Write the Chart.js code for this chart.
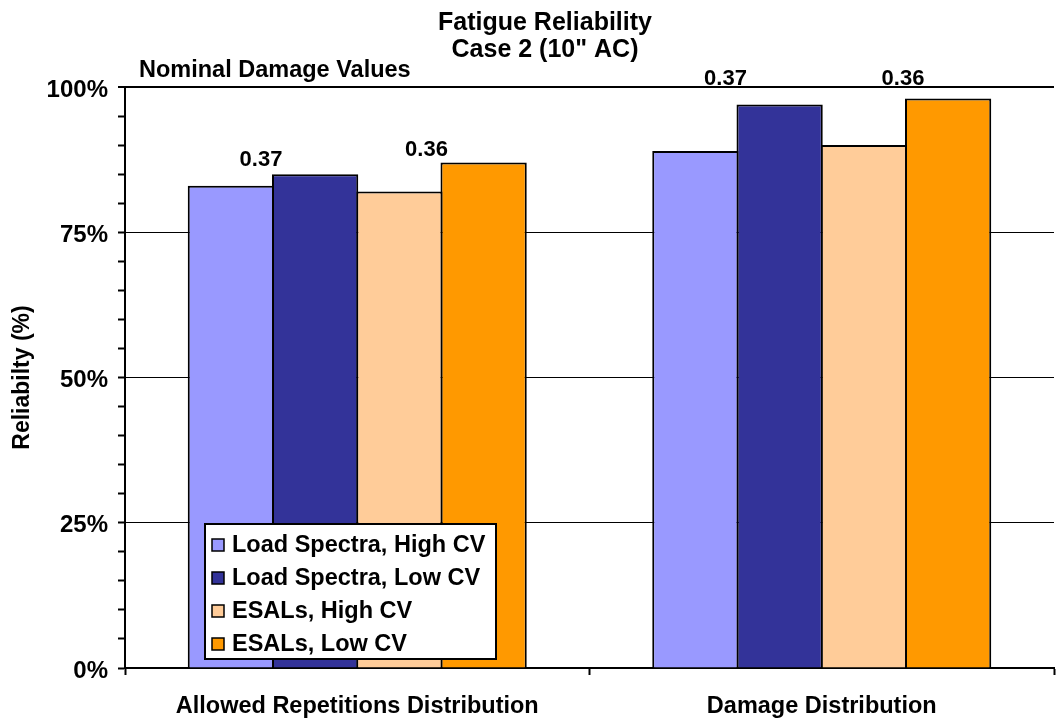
<!DOCTYPE html>
<html>
<head>
<meta charset="utf-8">
<script src="https://cdn.jsdelivr.net/npm/chart.js@4/dist/chart.umd.min.js"></script>
<style>
  html, body { margin: 0; padding: 0; background: #ffffff; }
  #wrap { width: 1057px; height: 723px; position: relative; }
</style>
</head>
<body>
<div id="wrap"><canvas id="chart"></canvas></div>
<script>
// Fatigue reliability, case 2 (10" AC)
const categories = ['Allowed Repetitions Distribution', 'Damage Distribution'];
const seriesNames = ['Load Spectra, High CV', 'Load Spectra, Low CV', 'ESALs, High CV', 'ESALs, Low CV'];
const loadSpectraHighCV = [83, 89];
const loadSpectraLowCV = [85, 97];
const esalsHighCV = [82, 90];
const esalsLowCV = [87, 98];
const yTicks = [0, 25, 50, 75, 100];
// nominal damage values written above each pair of bars
const damagePairs = [[0, 1], [2, 3]];
const nominalDamage = ['0.37', '0.36'];

const seriesColors = ['#9999FF', '#333399', '#FFCC99', '#FF9900'];
const FONT = "'Liberation Sans', Arial, Helvetica, sans-serif";

const values = [loadSpectraHighCV, loadSpectraLowCV, esalsHighCV, esalsLowCV];

// Text drawn on top: title lines, the damage caption and the damage labels
const annotations = {
  id: 'annotations',
  afterDatasetsDraw(chart) {
    const ctx = chart.ctx;
    ctx.save();
    ctx.fillStyle = '#000';
    ctx.textBaseline = 'alphabetic';

    ctx.font = 'bold 25px ' + FONT;
    ctx.textAlign = 'center';
    ctx.fillText('Fatigue Reliability', 545, 30);
    ctx.fillText('Case 2 (10" AC)', 545, 57);

    ctx.font = 'bold 23.5px ' + FONT;
    ctx.textAlign = 'left';
    ctx.fillText('Nominal Damage Values', 139, 77);

    // label nudges in pixels, per category and pair
    const nudges = [[[-11, -8], [-14, -7]], [[-11, -19], [-2, -14]]];
    ctx.font = 'bold 22px ' + FONT;
    ctx.textAlign = 'center';
    categories.forEach((c, ci) => {
      damagePairs.forEach((pair, pi) => {
        const bar = chart.getDatasetMeta(pair[1]).data[ci];
        const left = bar.x - bar.width / 2;
        const [dx, dy] = nudges[ci][pi];
        ctx.fillText(nominalDamage[pi], left + dx, bar.y + dy);
      });
    });
    ctx.restore();
  }
};

// Boxed legend sitting inside the plot area
const boxLegend = {
  id: 'boxLegend',
  afterDraw(chart) {
    const ctx = chart.ctx;
    const box = { left: 205, top: 524, right: 496, bottom: 659 };
    const rows = [545, 578, 611, 644];
    ctx.save();
    ctx.fillStyle = '#ffffff';
    ctx.fillRect(box.left, box.top, box.right - box.left, box.bottom - box.top);
    ctx.strokeStyle = '#000';
    ctx.lineWidth = 2;
    ctx.strokeRect(box.left, box.top, box.right - box.left, box.bottom - box.top);
    ctx.font = 'bold 23.5px ' + FONT;
    ctx.textAlign = 'left';
    ctx.textBaseline = 'middle';
    chart.data.datasets.forEach((ds, i) => {
      const y = rows[i];
      ctx.fillStyle = ds.backgroundColor;
      ctx.fillRect(212, y - 6, 12, 12);
      ctx.lineWidth = 1.5;
      ctx.strokeStyle = '#000';
      ctx.strokeRect(212, y - 6, 12, 12);
      ctx.fillStyle = '#000';
      ctx.fillText(ds.label, 232, y + 1);
    });
    ctx.restore();
  }
};

new Chart(document.getElementById('chart'), {
  type: 'bar',
  data: {
    labels: categories,
    datasets: seriesNames.map((name, i) => ({
      label: name,
      data: values[i],
      backgroundColor: seriesColors[i],
      borderColor: '#000',
      borderWidth: 2,
      borderSkipped: 'start',
      categoryPercentage: 0.7255,
      barPercentage: 1.024
    }))
  },
  options: {
    responsive: true,
    maintainAspectRatio: false,
    animation: false,
    devicePixelRatio: 1,
    layout: { padding: { top: 87, right: 3, left: 0, bottom: 0 } },
    plugins: {
      legend: { display: false },
      title: { display: false },
      tooltip: { enabled: false }
    },
    scales: {
      x: {
        afterFit(s) { s.height = 55; },
        border: { color: '#000', width: 2 },
        grid: { offset: true, drawOnChartArea: false, tickColor: '#000', tickLength: 7, tickWidth: 2 },
        ticks: { color: '#000', font: { family: FONT, size: 23.5, weight: 'bold' }, padding: 17, maxRotation: 0 }
      },
      y: {
        min: 0,
        max: 100,
        afterFit(s) { s.width = 125; },
        border: { color: '#000', width: 2 },
        grid: {
          color: c => (c.tick && yTicks.includes(c.tick.value)) ? '#000' : 'rgba(0,0,0,0)',
          lineWidth: c => (c.tick && c.tick.value === 100) ? 2 : 1,
          tickColor: '#000',
          tickLength: 7,
          tickWidth: 2
        },
        ticks: {
          stepSize: 5,
          autoSkip: false,
          color: '#000',
          padding: 10,
          labelOffset: 3,
          font: { family: FONT, size: 24, weight: 'bold' },
          callback: v => yTicks.includes(v) ? v + '%' : ''
        },
        title: {
          display: true,
          text: 'Reliabilty (%)',
          color: '#000',
          font: { family: FONT, size: 23, weight: 'bold' },
          padding: { top: 9, bottom: 0 }
        }
      }
    }
  },
  plugins: [annotations, boxLegend]
});
</script>
</body>
</html>
